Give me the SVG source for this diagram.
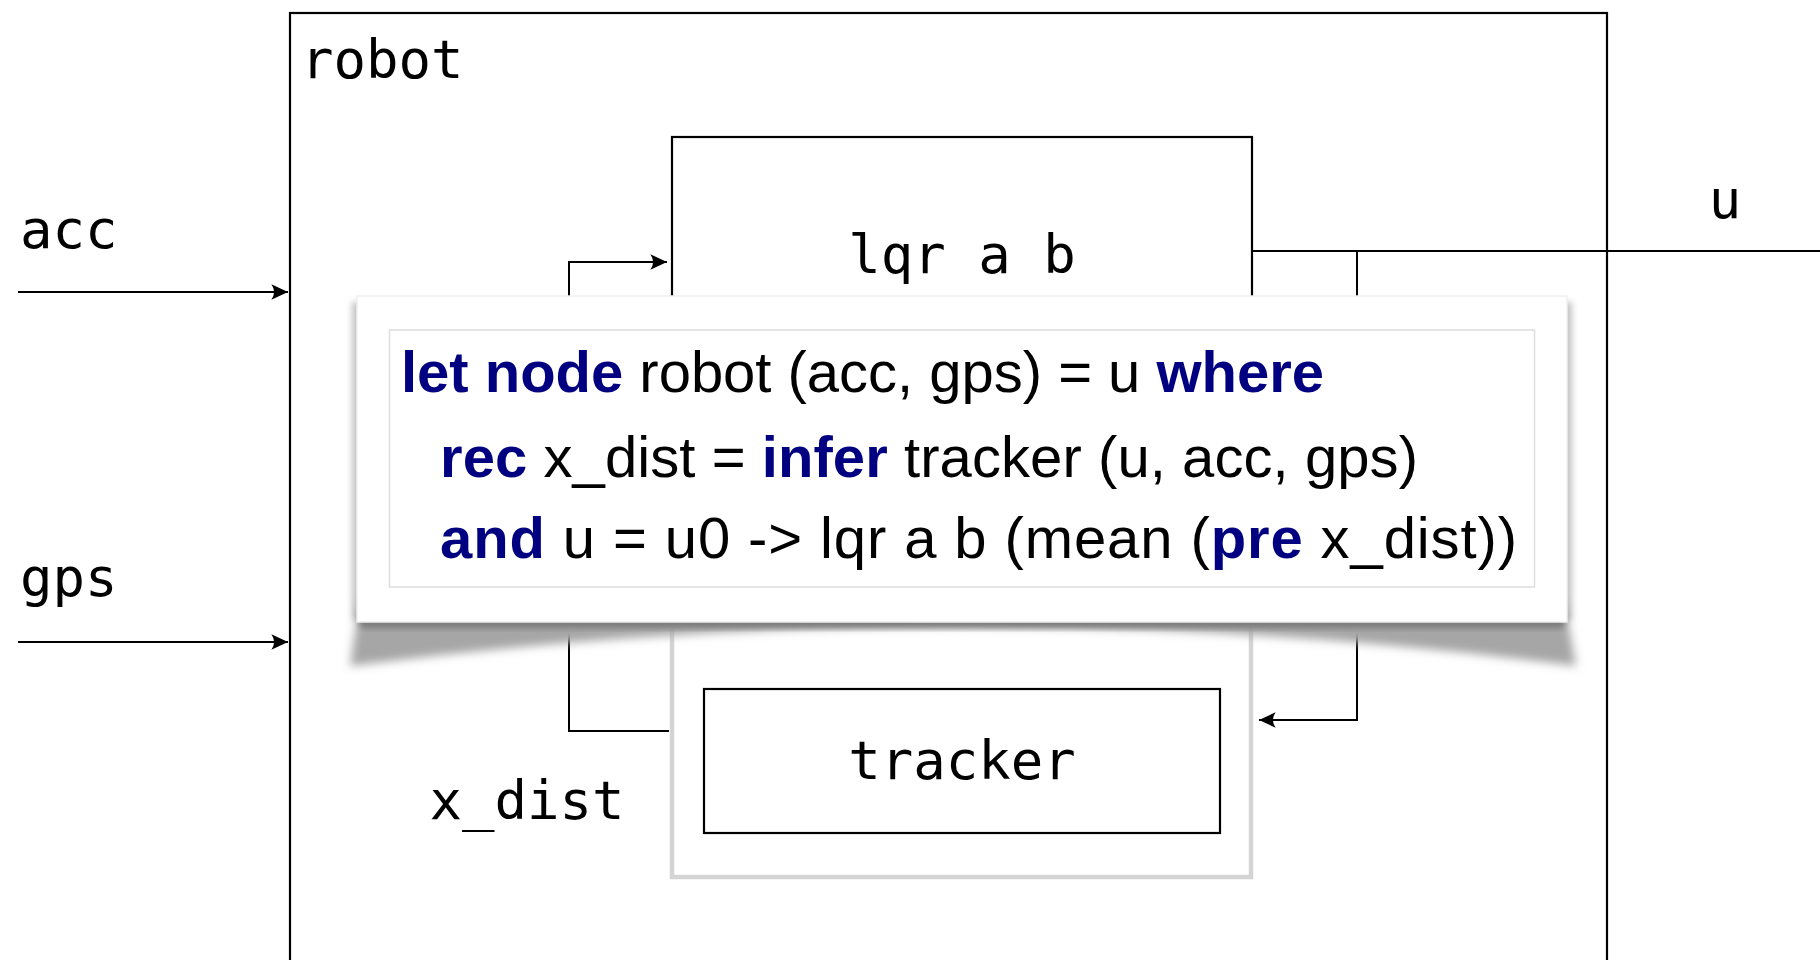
<svg xmlns="http://www.w3.org/2000/svg" width="1820" height="960" viewBox="0 0 1820 960">
  <style>
    .box { fill: none; stroke: #000; stroke-width: 2.2; }
    .conn { fill: none; stroke: #000; stroke-width: 2; }
    .mono { font-family: "DejaVu Sans Mono", "Liberation Mono", monospace; font-size: 54px; fill: #000; }
    .code { font-family: "Liberation Sans", "DejaVu Sans", sans-serif; font-size: 58px; fill: #000; }
    .kw { font-weight: bold; fill: #000080; }
  </style>
  <defs>
    <marker id="arr" markerUnits="userSpaceOnUse" markerWidth="20" markerHeight="20" viewBox="-16 -8 18 16" refX="0" refY="0" orient="auto">
      <path d="M0,0 L-15,-7 Q-10,0 -15,7 Z" fill="#000"/>
    </marker>
    <filter id="blurS" x="-10%" y="-50%" width="120%" height="200%">
      <feGaussianBlur stdDeviation="5"/>
    </filter>
    <filter id="blurE" x="-10%" y="-20%" width="120%" height="140%">
      <feGaussianBlur stdDeviation="3"/>
    </filter>
  </defs>

  <rect width="1820" height="960" fill="#fff"/>

  <g id="robot">
    <rect class="box" x="290" y="13" width="1317" height="1000"/>
    <text class="mono" x="301" y="78">robot</text>
  </g>

  <g id="lqr">
    <rect class="box" x="672" y="137" width="580" height="300"/>
    <text class="mono" x="962" y="273" text-anchor="middle">lqr a b</text>
  </g>

  <g id="infer">
    <rect x="672" y="560" width="579" height="317" fill="none" stroke="#d4d4d4" stroke-width="4.5"/>
  </g>

  <g id="tracker">
    <rect class="box" x="704" y="689" width="516" height="144" stroke-width="2.5"/>
    <text class="mono" x="962" y="779" text-anchor="middle">tracker</text>
  </g>

  <g id="labels">
    <text class="mono" x="20" y="248">acc</text>
    <text class="mono" x="20" y="596">gps</text>
    <text class="mono" x="1725" y="218" text-anchor="middle">u</text>
    <text class="mono" x="527" y="819" text-anchor="middle">x_dist</text>
  </g>

  <g id="connectors">
    <line class="conn" x1="18" y1="292" x2="288" y2="292" marker-end="url(#arr)"/>
    <line class="conn" x1="18" y1="642" x2="288" y2="642" marker-end="url(#arr)"/>
    <path class="conn" d="M669,731 H569 V262 H667" marker-end="url(#arr)"/>
    <path class="conn" d="M1252,251 H1820"/>
    <path class="conn" d="M1357,251 V720 H1259" marker-end="url(#arr)"/>
  </g>

  <g id="code-panel">
    <rect x="352" y="302" width="1220" height="318" fill="#c4c4c4" filter="url(#blurE)"/>
    <path d="M360,600 L1564,600 L1576,666 Q965,586 350,666 Z" fill="#a6a6a6" filter="url(#blurS)"/>
    <rect x="360" y="612" width="1204" height="16" fill="#7a7a7a" filter="url(#blurE)"/>
    <rect x="357" y="296" width="1210" height="326" fill="#fff" stroke="#efefef" stroke-width="1.5"/>
    <rect x="389.5" y="330" width="1145" height="257" fill="#fff" stroke="#dddddd" stroke-width="1.5"/>
    <text class="code" x="401" y="392" textLength="923" lengthAdjust="spacing"><tspan class="kw">let node</tspan> robot (acc, gps) = u <tspan class="kw">where</tspan></text>
    <text class="code" x="440" y="477" textLength="978" lengthAdjust="spacing"><tspan class="kw">rec</tspan> x_dist = <tspan class="kw">infer</tspan> tracker (u, acc, gps)</text>
    <text class="code" x="440" y="558" textLength="1077" lengthAdjust="spacing"><tspan class="kw">and</tspan> u = u0 -&gt; lqr a b (mean (<tspan class="kw">pre</tspan> x_dist))</text>
  </g>
</svg>
